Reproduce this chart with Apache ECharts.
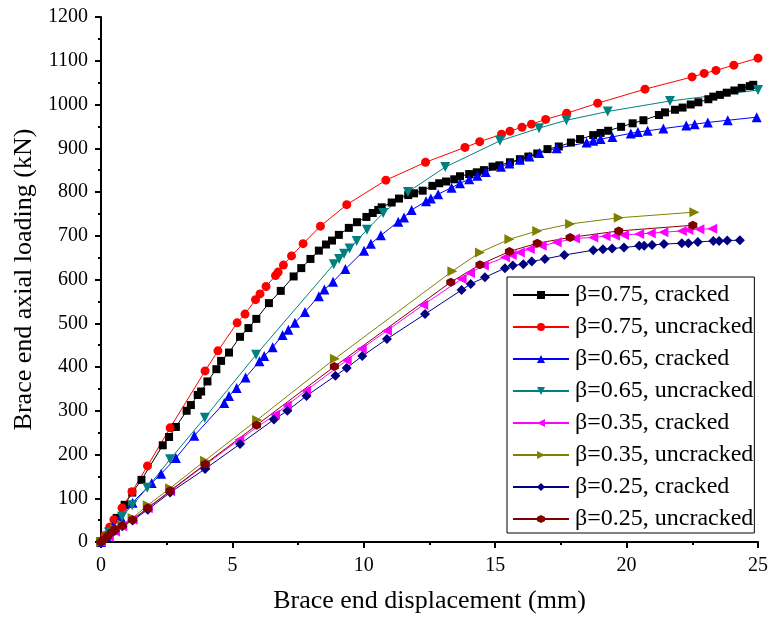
<!DOCTYPE html>
<html>
<head>
<meta charset="utf-8">
<script src="https://cdn.jsdelivr.net/npm/echarts@6/dist/echarts.min.js"></script>
<style>html,body{margin:0;padding:0;background:#fff}#c{width:771px;height:619px}</style>
</head>
<body>
<div id="c"></div>
<script>
// ---- data (x: displacement mm, y: axial load kN) ----
const seriesNames = ['β=0.75, cracked','β=0.75, uncracked','β=0.65, cracked','β=0.65, uncracked','β=0.35, cracked','β=0.35, uncracked','β=0.25, cracked','β=0.25, uncracked'];

const b75cracked = [[0,0],[0.15,12],[0.35,30],[0.6,55],[0.9,85],[1.19,113],[1.54,142],[2.35,221],[2.59,240],[2.85,263],[3.26,300],[3.42,313],[3.68,336],[3.81,344],[4.05,367],[4.39,395],[4.57,414],[4.87,433],[5.29,469],[5.61,489],[5.91,510],[6.39,546],[6.84,574],[7.33,607],[7.62,626],[7.97,647],[8.29,666],[8.56,680],[8.79,689],[9.05,702],[9.43,718],[9.74,731],[10.10,743],[10.34,752],[10.55,759],[10.68,765],[11.06,776],[11.34,785],[11.69,793],[11.91,797],[12.24,803],[12.61,814],[12.87,820],[13.13,824],[13.44,829],[13.66,836],[14.01,841],[14.30,845],[14.57,850],[14.90,858],[15.16,861],[15.56,868],[15.94,875],[16.26,881],[16.60,888],[16.99,898],[17.42,904],[17.88,913],[18.23,921],[18.73,930],[19.01,935],[19.30,940],[19.79,949],[20.23,957],[20.64,964],[21.23,976],[21.46,982],[21.84,988],[22.13,993],[22.44,1000],[22.73,1005],[23.11,1012],[23.30,1018],[23.55,1022],[23.81,1027],[24.10,1032],[24.38,1038],[24.69,1042],[24.82,1045]];

const b75uncracked = [[0,0],[0.15,15],[0.33,34],[0.49,51],[0.80,78],[1.18,115],[1.77,174],[2.63,261],[3.96,391],[4.45,437],[5.18,501],[5.48,521],[5.88,554],[6.05,567],[6.28,584],[6.64,609],[6.74,617],[6.94,633],[7.25,654],[7.69,682],[8.35,722],[9.35,771],[10.84,827],[12.35,868],[13.85,902],[14.41,915],[15.24,932],[15.56,939],[16.02,948],[16.38,955],[16.92,966],[17.72,980],[18.90,1003],[20.70,1035],[22.49,1063],[22.95,1071],[23.40,1078],[24.08,1090],[25.0,1106]];

const b65cracked = [[0,0],[0.2,14],[0.45,35],[0.75,57],[1.2,90],[1.93,135],[2.29,156],[2.85,192],[3.55,243],[4.69,318],[4.87,334],[5.16,352],[5.50,376],[6.03,413],[6.21,425],[6.53,445],[6.91,473],[7.13,485],[7.38,501],[7.76,526],[8.29,562],[8.50,577],[8.83,595],[9.30,624],[10.01,666],[10.27,682],[10.65,701],[11.31,732],[11.53,742],[11.82,759],[12.37,779],[12.55,785],[12.83,795],[13.34,810],[13.66,820],[14.01,829],[14.32,837],[14.64,846],[15.22,858],[15.54,865],[15.94,874],[16.30,881],[16.68,889],[17.34,900],[18.48,913],[18.73,917],[19.01,921],[19.46,926],[20.16,934],[20.43,937],[20.80,940],[21.40,945],[22.27,952],[22.59,955],[23.09,959],[23.85,964],[24.95,971]];

const b65uncracked = [[0,0],[0.3,22],[0.8,58],[1.19,84],[1.76,124],[2.63,189],[3.95,284],[5.90,428],[8.86,635],[9.06,647],[9.25,659],[9.46,671],[9.73,688],[10.12,714],[10.74,752],[11.68,800],[13.10,857],[15.18,917],[16.67,946],[17.71,964],[19.28,984],[21.65,1008],[25.0,1033]];

const b35cracked = [[0,0],[0.3,12],[0.53,24],[0.81,36],[1.20,51],[1.78,77],[2.63,116],[3.96,176],[5.26,234],[6.62,291],[7.07,312],[7.80,346],[9.35,415],[9.92,442],[10.88,483],[12.26,542],[13.72,601],[14.04,615],[14.57,632],[15.37,651],[15.63,656],[15.94,662],[16.32,670],[16.77,677],[17.34,685],[18.04,694],[18.73,696],[19.2,699],[19.56,700],[19.9,702],[20.48,704],[20.92,706],[21.40,708],[22.10,711],[22.35,713],[22.77,715],[23.26,716]];

const b35uncracked = [[0,0],[0.25,14],[0.53,30],[0.81,40],[1.20,55],[1.78,84],[2.63,123],[3.96,186],[5.94,279],[8.90,419],[13.37,619],[14.42,662],[15.54,692],[16.60,711],[17.85,727],[19.70,741],[22.58,754]];

const b25cracked = [[0,0],[0.25,12],[0.53,26],[0.81,36],[1.20,49],[1.78,74],[2.63,113],[3.96,167],[5.29,224],[6.58,280],[7.09,300],[7.82,334],[8.92,380],[9.35,398],[9.94,425],[10.88,464],[12.33,521],[13.72,576],[14.07,590],[14.61,605],[15.37,626],[15.67,632],[16.07,635],[16.39,641],[16.89,647],[17.63,656],[18.73,667],[19.1,669],[19.45,671],[19.9,673],[20.48,677],[20.67,677],[20.97,679],[21.42,681],[22.10,683],[22.35,683],[22.71,686],[23.30,688],[23.52,688],[23.83,689],[24.31,690]];

const b25uncracked = [[0,0],[0.1,5],[0.25,14],[0.4,22],[0.53,30],[0.81,37],[1.20,51],[1.78,78],[2.63,117],[3.96,178],[5.92,267],[8.88,401],[13.31,594],[14.42,634],[15.54,664],[16.60,683],[17.85,696],[19.70,711],[22.52,724]];

const xTicks = [0,5,10,15,20,25];
const yTicks = [0,100,200,300,400,500,600,700,800,900,1000,1100,1200];
const xTitle = 'Brace end displacement (mm)';
const yTitle = 'Brace end axial loading (kN)';

// ---- styling ----
const allData = [b75cracked,b75uncracked,b65cracked,b65uncracked,b35cracked,b35uncracked,b25cracked,b25uncracked];
const colors = ['#000000','#ff0000','#0000ff','#008080','#ff00ff','#808000','#000080','#800000'];
const hexagon = 'path://M0,-10 L8.66,-5 L8.66,5 L0,10 L-8.66,5 L-8.66,-5 Z';
const symbols = ['rect','circle','triangle','triangle','triangle','triangle','diamond',hexagon];
const rotates = [0,0,0,180,90,-90,0,0];
const sizes = [8,9,10,10,10,10,10,9];
const FONT = 'Liberation Serif';

const chart = echarts.init(document.getElementById('c'), null, {renderer:'canvas'});
chart.setOption({
  animation:false,
  backgroundColor:'#fff',
  grid:{left:101,right:13,top:17,bottom:76,containLabel:false},
  legend:{
    orient:'vertical', left:507, top:277,
    padding:[5,1,1,5],
    borderColor:'#000', borderWidth:1, backgroundColor:'#fff',
    itemWidth:56, itemHeight:10, itemGap:6,
    textStyle:{fontFamily:FONT,fontSize:24,color:'#000',lineHeight:26,padding:[0,0,0,1]},
    data:seriesNames
  },
  xAxis:{
    type:'value', min:0, max:25, interval:5,
    name:xTitle, nameLocation:'middle', nameGap:46,
    nameTextStyle:{fontFamily:FONT,fontSize:26,color:'#000'},
    axisLine:{onZero:false,lineStyle:{color:'#000',width:2}},
    axisTick:{inside:false,length:6,lineStyle:{color:'#000',width:2}},
    minorTick:{show:true,splitNumber:2,length:3,lineStyle:{color:'#000',width:2}},
    splitLine:{show:false},
    axisLabel:{fontFamily:FONT,fontSize:20,color:'#000',margin:14,
      formatter:v=>xTicks.includes(v)?String(v):''}
  },
  yAxis:{
    type:'value', min:0, max:1200, interval:100,
    name:yTitle, nameLocation:'middle', nameGap:63, nameRotate:90,
    nameTextStyle:{fontFamily:FONT,fontSize:26,color:'#000'},
    axisLine:{onZero:false,lineStyle:{color:'#000',width:2}},
    axisTick:{inside:false,length:6,lineStyle:{color:'#000',width:2}},
    minorTick:{show:true,splitNumber:2,length:3,lineStyle:{color:'#000',width:2}},
    splitLine:{show:false},
    axisLabel:{fontFamily:FONT,fontSize:20,color:'#000',margin:13,
      formatter:v=>yTicks.includes(v)?String(v):''}
  },
  series:allData.map((d,i)=>({
    name:seriesNames[i], type:'line', data:d,
    symbol:symbols[i], symbolRotate:rotates[i], symbolSize:sizes[i],
    showAllSymbol:true, clip:true,
    lineStyle:{color:colors[i],width:1},
    itemStyle:{color:colors[i]}
  }))
});
</script>
</body>
</html>
